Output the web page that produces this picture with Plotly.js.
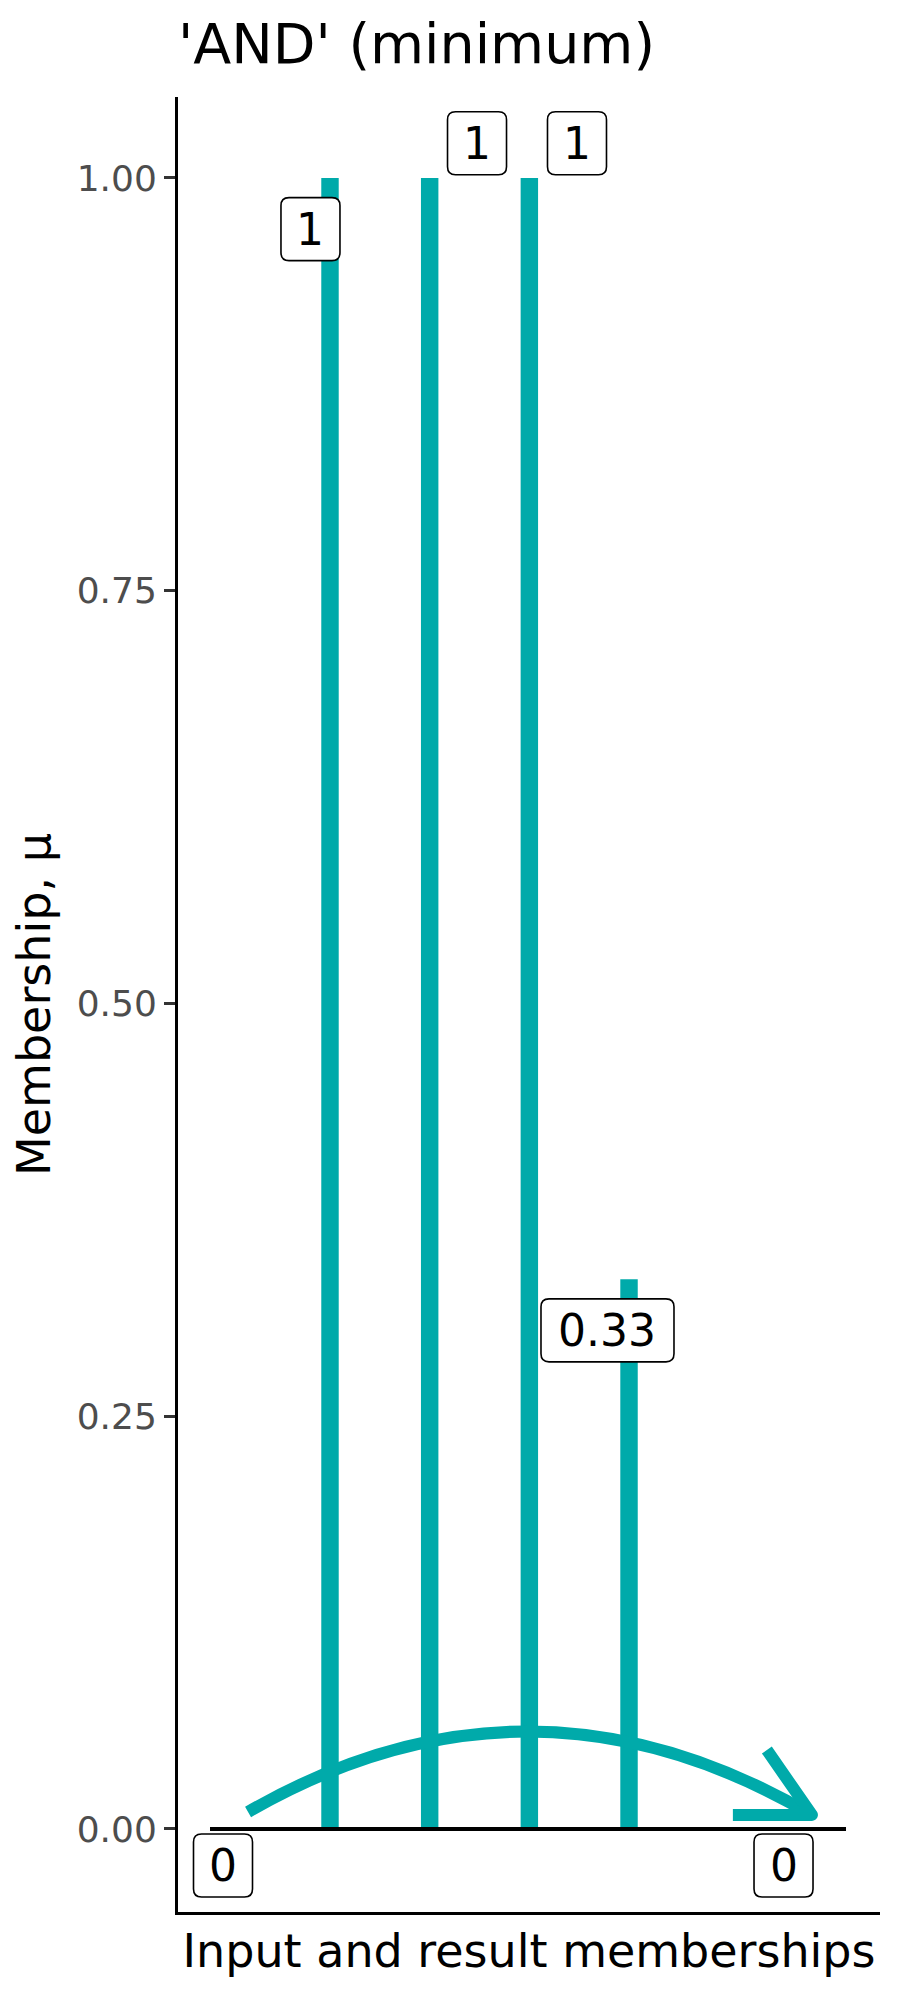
<!DOCTYPE html>
<html>
<head>
<meta charset="utf-8">
<script src="https://cdn.plot.ly/plotly-3.0.1.min.js"></script>
<style>html,body{margin:0;padding:0;background:#fff;}</style>
</head>
<body>
<div id="chart" style="width:900px;height:2000px;"></div>
<script>
// ---- data ----
const barPositions = [1, 2, 3, 4];
const barMemberships = [1, 1, 1, 0.333];
const barLabels = ['1', '1', '1', '0.33'];
const endpointLabels = ['0', '0'];
const yTickValues = [0, 0.25, 0.5, 0.75, 1];
const yTickLabels = ['0.00', '0.25', '0.50', '0.75', '1.00'];

// ---- styling / layout constants ----
const TEAL = '#00AAAA';
const FONT = 'DejaVu Sans, Verdana, sans-serif';
const labelNudges = [[-0.196, -0.031], [0.475, 0.021], [0.478, 0.021], [-0.216, -0.031]];
const endpointLabelPos = [[-0.0735, -0.0221], [5.55, -0.0221]];
const baseline = {x0: -0.204, x1: 6.177};
const arc = {x0: 0.178, y0: 0.0103, cx: 3.006, cy: 0.1086, x1: 5.835, y1: 0.0085};
const head = {ax: 5.383, ay: 0.0478, bx: 5.042, by: 0.0085};

function roundRect(w, h, r) {
  const x0 = -w / 2, x1 = w / 2, y0 = -h / 2, y1 = h / 2;
  return `M${x0 + r},${y0} L${x1 - r},${y0} Q${x1},${y0} ${x1},${y0 + r} ` +
         `L${x1},${y1 - r} Q${x1},${y1} ${x1 - r},${y1} L${x0 + r},${y1} ` +
         `Q${x0},${y1} ${x0},${y1 - r} L${x0},${y0 + r} Q${x0},${y0} ${x0 + r},${y0} Z`;
}
function boxWidth(txt) { return txt.length > 1 ? 133 : 59; }

const traces = [{
  type: 'bar',
  x: barPositions,
  y: barMemberships,
  width: 0.175,
  marker: {color: TEAL, line: {width: 0}},
  hoverinfo: 'skip',
  showlegend: false
}];

const shapes = [];
const annotations = [];

// baseline at membership 0
shapes.push({type: 'line', xref: 'x', yref: 'y', x0: baseline.x0, x1: baseline.x1, y0: 0, y1: 0,
  line: {color: 'black', width: 4}, layer: 'above'});
// curved arrow
shapes.push({type: 'path', xref: 'x', yref: 'y', layer: 'above',
  path: `M${arc.x0},${arc.y0} Q${arc.cx},${arc.cy} ${arc.x1},${arc.y1}`,
  line: {color: TEAL, width: 12}});
shapes.push({type: 'path', xref: 'x', yref: 'y', layer: 'above',
  path: `M${head.ax},${head.ay} L${arc.x1},${arc.y1} L${head.bx},${head.by}`,
  line: {color: TEAL, width: 12}});

function addLabel(txt, x, y) {
  shapes.push({type: 'path', xref: 'x', yref: 'y', xsizemode: 'pixel', ysizemode: 'pixel',
    xanchor: x, yanchor: y, path: roundRect(boxWidth(txt), 63, 8),
    fillcolor: 'white', line: {color: 'black', width: 1.6}, layer: 'above'});
  annotations.push({xref: 'x', yref: 'y', x: x, y: y, text: txt, showarrow: false,
    xanchor: 'center', yanchor: 'middle', font: {family: FONT, size: 44, color: 'black'}});
}
barLabels.forEach((t, i) => addLabel(t, barPositions[i] + labelNudges[i][0], barMemberships[i] + labelNudges[i][1]));
endpointLabels.forEach((t, i) => addLabel(t, endpointLabelPos[i][0], endpointLabelPos[i][1]));

const layout = {
  width: 900, height: 2000,
  margin: {l: 178, r: 20, t: 97, b: 88},
  paper_bgcolor: 'white', plot_bgcolor: 'white',
  font: {family: FONT, color: 'black'},
  showlegend: false,
  title: {text: "'AND' (minimum)", font: {family: FONT, size: 55.5, color: 'black'},
    x: 0, xref: 'paper', xanchor: 'left', y: 0.978, yref: 'container', yanchor: 'middle'},
  xaxis: {range: [-0.525, 6.518], showgrid: false, zeroline: false, showticklabels: false,
    ticks: '', showline: true, linecolor: 'black', linewidth: 3,
    title: {text: 'Input and result memberships', font: {family: FONT, size: 46, color: 'black'}, standoff: 21}},
  yaxis: {range: [-0.0503, 1.049], showgrid: false, zeroline: false,
    tickmode: 'array', tickvals: yTickValues, ticktext: yTickLabels,
    ticks: 'outside', ticklen: 11, tickwidth: 3, tickcolor: '#333333',
    tickfont: {family: FONT, size: 36, color: '#4D4D4D'},
    showline: true, linecolor: 'black', linewidth: 3,
    title: {text: 'Membership, μ', font: {family: FONT, size: 46, color: 'black'}, standoff: 12}},
  shapes: shapes,
  annotations: annotations
};

Plotly.newPlot('chart', traces, layout, {displayModeBar: false, staticPlot: true}).then(() => {
  document.querySelectorAll('.shapelayer path').forEach(p => {
    p.style.strokeLinejoin = 'round';
  });
});
</script>
</body>
</html>
